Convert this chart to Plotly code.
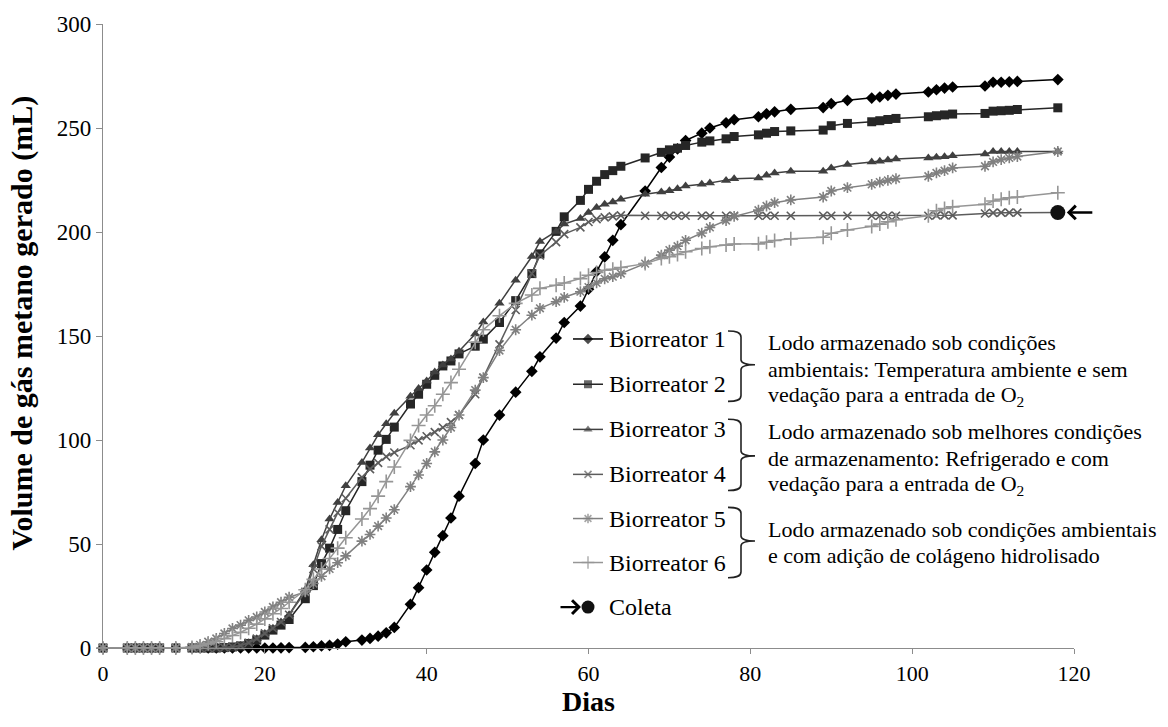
import plotly.graph_objects as go

# ---------------- data ----------------
days = [0, 3, 4, 5, 6, 7, 9,
        11, 12, 13, 14, 15, 16, 17, 18, 19, 20, 21, 22, 23,
        25, 26, 27, 28, 29, 30,
        32, 33, 34, 35, 36,
        38, 39, 40, 41, 42, 43, 44,
        46, 47, 49, 51, 53, 54, 56, 57, 59,
        60, 61, 62, 63, 64,
        67, 69, 70, 71, 72,
        74, 75, 77, 78,
        81, 82, 83, 85,
        89, 90, 92,
        95, 96, 97, 98,
        102, 103, 104, 105,
        109, 110, 111, 112, 113,
        118]

b1 = [0, 0, 0, 0, 0, 0, 0,
      0, 0, 0, 0, 0, 0, 0, 0, 0, 0, 0, 0.1, 0.2,
      0.3, 0.6, 1.0, 1.3, 1.9, 3.0,
      3.8, 4.6, 5.7, 7.3, 9.9,
      21, 29, 37.5, 46, 54, 62.5, 73,
      88.7, 100, 112, 123, 133, 140, 149, 156.5, 164.4,
      172.5, 181, 188, 196, 203.5,
      219.7, 231, 236, 240, 244,
      247.5, 250, 252.5, 254,
      255.4, 256.8, 257.8, 259,
      259.8, 261.7, 263.3,
      264.4, 264.9, 265.7, 266.3,
      267.3, 268.4, 269.2, 269.7,
      270.2, 272, 272, 272.2, 272.4,
      273.3]

b2 = [0, 0, 0, 0, 0, 0, 0,
      0, 0, 0, 0, 0.2, 0.5, 1, 2.2, 3.8, 6.2, 8.6, 11, 13.7,
      23.7, 30, 40.6, 48, 57, 66,
      80, 87.9, 95.1, 100.3, 106.2,
      117.3, 122, 126.8, 131.1, 135.6, 138, 141.4,
      145.1, 148.5, 156.5, 167, 180, 189.5, 200.3, 207.3, 215.2,
      220.5, 224.4, 227.6, 229.5, 231.6,
      235.6, 238.3, 239.5, 240.3, 241.6,
      243.2, 243.8, 244.8, 245.9,
      246.7, 247.5, 248.3, 248.6,
      249, 251.1, 252.2,
      253, 253.5, 254.1, 254.6,
      255.4, 255.9, 256.3, 256.7,
      257, 258.1, 258.3, 258.5, 258.9,
      259.7]

b3 = [0, 0, 0, 0, 0, 0, 0,
      0, 0, 0, 0, 0.2, 0.6, 1.2, 2.5, 4.5, 7, 9.5, 12.5, 16,
      28, 40, 52, 62, 70, 78,
      89.2, 96.2, 102.5, 107.8, 112.9,
      121, 124.8, 128.4, 132.7, 136, 139, 142.7,
      151, 156.7, 165.7, 176.8, 188.2, 195.4, 200.3, 203.8, 206.5,
      209.4, 211.8, 213.3, 214.4, 215.7,
      218.1, 219.2, 219.8, 220.8, 222.1,
      222.9, 223.5, 224.8, 225.6,
      226, 227.3, 228.4, 229.2,
      229.2, 230.8, 232.4,
      233.7, 234, 234.6, 235.1,
      235.6, 235.9, 236.2, 236.7,
      237.5, 238.7, 238.7, 238.7, 238.7,
      238.7]

b4 = [0, 0, 0, 0, 0, 0, 0,
      0, 0, 0, 0, 0.2, 0.6, 1.2, 2.5, 4.5, 7, 9.5, 12.5, 16,
      27, 38, 49, 57, 65, 72,
      82, 86, 89, 92, 94,
      97.5, 99.8, 101.8, 103.8, 106, 108.6, 112,
      122, 130, 146, 162.5, 180, 188.7, 195.1, 199, 202.2,
      204.8, 206.2, 207, 207.5, 208,
      207.8, 207.8, 207.8, 207.8, 207.8,
      207.8, 207.8, 207.8, 207.8,
      207.8, 207.8, 207.8, 207.8,
      207.8, 207.8, 207.8,
      207.8, 207.8, 207.8, 207.8,
      207.8, 208, 208, 208,
      208.9, 209.2, 209.3, 209.3, 209.3,
      209.4]

b5 = [0, 0, 0, 0, 0, 0, 0,
      0.5, 1.5, 3, 4.6, 7, 9.4, 11, 13.3, 14.9, 17.3, 19.7, 22, 24.4,
      27, 31, 34.5, 38, 41, 44.3,
      51.4, 54.6, 58.6, 62.5, 66.5,
      77.6, 83.2, 88.7, 94.3, 100, 106, 112,
      124, 130, 143, 153, 160, 163.3, 166.5, 168.6, 171.3,
      173.5, 175.5, 177.5, 178.5, 180,
      184.8, 188.9, 191.3, 193.2, 196,
      199.5, 202.2, 205.5, 207.5,
      210.5, 212.5, 214.1, 215.4,
      216.8, 219.7, 221.3,
      222.9, 224, 224.8, 225.6,
      226.8, 228.4, 229.5, 230.8,
      231.6, 233.7, 234.8, 235.6, 236.3,
      238.7]

b6 = [0, 0, 0, 0, 0, 0, 0,
      0.3, 1, 2, 3, 4.5, 6, 7.5, 9.5, 11.5, 14, 16.5, 19, 22,
      28, 33, 38, 43, 48, 53,
      62, 67, 73, 80, 87,
      99.8, 107, 112, 116.5, 122, 127.6, 134,
      147, 153, 159.7, 165.7, 169.7, 172.9, 174.4, 175.5, 177.6,
      179.2, 180.5, 181.6, 182.1, 182.9,
      184.8, 187.3, 188.1, 189.2, 190.5,
      192.1, 192.9, 193.7, 194.2,
      194.3, 195.1, 195.9, 196.7,
      197.5, 199.4, 201,
      202.7, 203.8, 204.9, 205.9,
      207.8, 210.2, 211.3, 212.1,
      213.3, 214.9, 215.7, 216.5, 216.8,
      218.9]

names = ["Biorreator 1", "Biorreator 2", "Biorreator 3",
         "Biorreator 4", "Biorreator 5", "Biorreator 6"]
series = [b1, b2, b3, b4, b5, b6]
colors = ["#000000", "#262626", "#404040", "#5c5c5c", "#808080", "#969696"]
symbols = ["diamond", "square", "triangle-up", "x-thin", "asterisk", "cross-thin"]
sizes = [9, 9, 9, 8, 9, 10]
thin = [False, False, False, True, True, True]

groups = [
    ["Lodo armazenado sob condições",
     "ambientais: Temperatura ambiente e sem",
     "vedação para a entrada de O<sub>2</sub>"],
    ["Lodo armazenado sob melhores condições",
     "de armazenamento: Refrigerado e com",
     "vedação para a entrada de O<sub>2</sub>"],
    ["Lodo armazenado sob condições ambientais",
     "e com adição de colágeno hidrolisado"],
]
coleta_label = "Coleta"
x_ticks = [0, 20, 40, 60, 80, 100, 120]
y_ticks = [0, 50, 100, 150, 200, 250, 300]

SERIF = "Liberation Serif"
AX = "#8c8c8c"

fig = go.Figure()

def marker(i, size=None):
    s = sizes[i] if size is None else size
    if thin[i]:
        return dict(symbol=symbols[i], size=s, color=colors[i],
                    line=dict(width=1.6, color=colors[i]))
    return dict(symbol=symbols[i], size=s, color=colors[i],
                line=dict(width=0))

for i in range(6):
    fig.add_trace(go.Scatter(
        x=days, y=series[i], mode="lines+markers", name=names[i],
        line=dict(color=colors[i], width=1.5), marker=marker(i),
        cliponaxis=False, showlegend=False))

# Coleta point (end of Biorreator 4)
fig.add_trace(go.Scatter(
    x=[days[-1]], y=[b4[-1]], mode="markers",
    marker=dict(symbol="circle", size=15, color="#111111"),
    cliponaxis=False, showlegend=False))
fig.add_annotation(x=days[-1], y=b4[-1], xref="x", yref="y",
                   ax=36, ay=0, showarrow=True, arrowhead=4, arrowsize=1.1,
                   arrowwidth=2.4, arrowcolor="#000000", standoff=9, text="")

# ---------------- custom legend (pixel overlay axes) ----------------
X0, X1, YT, YB = 103, 1074, 18, 648
leg_y = [336, 381.7, 427.3, 472.7, 517.3, 561.7]
for i in range(6):
    fig.add_trace(go.Scatter(
        x=[573, 588, 603], y=[leg_y[i]] * 3, xaxis="x2", yaxis="y2",
        mode="lines+markers", line=dict(color=colors[i], width=1.5),
        marker=dict(**{**marker(i), "size": [0, sizes[i] - 1, 0]}),
        cliponaxis=False, showlegend=False, hoverinfo="skip"))
    fig.add_annotation(x=607, y=leg_y[i], xref="x2", yref="y2", text=names[i],
                       showarrow=False, xanchor="left", yanchor="middle",
                       font=dict(family=SERIF, size=24, color="#000"))

# Coleta legend
coleta_y = 606.7
fig.add_trace(go.Scatter(
    x=[588], y=[coleta_y], xaxis="x2", yaxis="y2", mode="markers",
    marker=dict(symbol="circle", size=13, color="#111111"),
    cliponaxis=False, showlegend=False, hoverinfo="skip"))
fig.add_annotation(x=581, y=coleta_y, xref="x2", yref="y2", ax=-22, ay=0,
                   showarrow=True, arrowhead=4, arrowsize=1.1, arrowwidth=2.4,
                   arrowcolor="#000", text="")
fig.add_annotation(x=607, y=coleta_y, xref="x2", yref="y2", text=coleta_label,
                   showarrow=False, xanchor="left", yanchor="middle",
                   font=dict(family=SERIF, size=24, color="#000"))

# braces
braces = [(328, 362, 399), (417, 454, 489), (506, 540, 577)]
for top, mid, bot in braces:
    L, S, T = 728, 741, 755
    path = (f"M {L},{top} C {L+8},{top} {S},{top+1} {S},{top+6} "
            f"L {S},{mid-5} C {S},{mid-2} {S+3},{mid} {T},{mid} "
            f"C {S+3},{mid} {S},{mid+2} {S},{mid+5} "
            f"L {S},{bot-6} C {S},{bot-1} {L+8},{bot} {L},{bot}")
    fig.add_shape(type="path", path=path, xref="x2", yref="y2",
                  line=dict(color="#222222", width=1.6))

desc_y = [[339.3, 366.7, 393.3], [429.3, 456.7, 483.3], [528.3, 555]]
for g, ys in zip(groups, desc_y):
    for t, yy in zip(g, ys):
        fig.add_annotation(x=766, y=yy, xref="x2", yref="y2", text=t,
                           showarrow=False, xanchor="left", yanchor="middle",
                           font=dict(family=SERIF, size=22, color="#000"))

# axis titles
fig.add_annotation(x=(22 - X0) / (X1 - X0), y=0.52, xref="paper", yref="paper",
                   text="<b>Volume de gás metano gerado (mL)</b>", textangle=-90,
                   showarrow=False, xanchor="center", yanchor="middle",
                   font=dict(family=SERIF, size=30, color="#000"))
fig.add_annotation(x=0.5, y=-(702 - YB) / (YB - YT), xref="paper", yref="paper",
                   text="<b>Dias</b>", showarrow=False,
                   xanchor="center", yanchor="middle",
                   font=dict(family=SERIF, size=28, color="#000"))

fig.update_layout(
    width=1168, height=727, autosize=False,
    margin=dict(l=X0, r=1168 - X1, t=YT, b=727 - YB, pad=0),
    paper_bgcolor="white", plot_bgcolor="white",
    showlegend=False,
    font=dict(family=SERIF, size=23, color="#000"),
    xaxis=dict(range=[0, 120], tickvals=x_ticks, showgrid=False, zeroline=False,
               showline=True, linecolor=AX, linewidth=1.3, ticks="outside",
               ticklen=5, tickcolor=AX, tickwidth=1.3,
               tickfont=dict(family=SERIF, size=22, color="#000")),
    yaxis=dict(range=[0, 300], tickvals=y_ticks, showgrid=False, zeroline=False,
               showline=True, linecolor=AX, linewidth=1.3, ticks="outside",
               ticklen=6, tickcolor=AX, tickwidth=1.3,
               tickfont=dict(family=SERIF, size=23, color="#000")),
    xaxis2=dict(range=[X0, X1], overlaying="x", visible=False, fixedrange=True),
    yaxis2=dict(range=[YB, YT], overlaying="y", visible=False, fixedrange=True),
)

fig.write_html("out.html")
